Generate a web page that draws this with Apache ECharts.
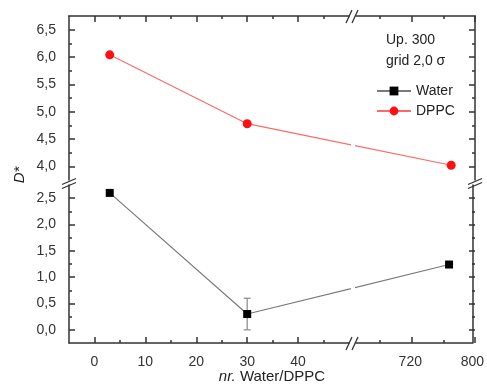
<!DOCTYPE html>
<html>
<head>
<meta charset="utf-8">
<script src="https://cdn.jsdelivr.net/npm/echarts@6/dist/echarts.min.js"></script>
<style>
html,body{margin:0;padding:0;background:#fff;}
#c{width:487px;height:389px;}
</style>
</head>
<body>
<div id="c"></div>
<script>
// ---- data ----
const waterX = [3, 30, 770];
const waterY = [2.6, 0.3, 1.24];
const waterErr = [0, 0.3, 0];
const dppcX = [3, 30, 770];
const dppcY = [6.04, 4.78, 4.02];

// ---- axis ranges / ticks ----
const xLeftRange = [-5, 50];
const xRightRange = [650, 800];
const yLowerRange = [-0.25, 2.75];
const yUpperRange = [3.75, 6.75];
const xLeftTicks = [0, 10, 20, 30, 40];
const xLeftMinor = [5, 15, 25, 35, 45];
const xRightTicks = [720, 800];
const xRightMinor = [680, 760];
const yUpperTicks = [4.0, 4.5, 5.0, 5.5, 6.0, 6.5];
const yUpperMinor = [4.25, 4.75, 5.25, 5.75, 6.25];
const yLowerTicks = [0.0, 0.5, 1.0, 1.5, 2.0, 2.5];
const yLowerMinor = [0.25, 0.75, 1.25, 1.75, 2.25];

const FONT = 'Liberation Sans, Arial, sans-serif';
const AX = '#333';
const TICK_W = 1.5;

// ---- panel layout (pixels) ----
const PL = { left: 69, width: 280 }, PR = { left: 356, width: 119 };
const PU = { top: 16, height: 164 }, PD = { top: 185, height: 158 };
const FULL_X = { left: PL.left, width: PR.left + PR.width - PL.left };
const FULL_Y = { top: PU.top, height: PD.top + PD.height - PU.top };

function mkAxis(dim, g, range, labelsAt, pos, showLabels) {
  const fmt = dim === 'y' ? (v => v.toFixed(1).replace('.', ',')) : (v => String(v));
  return {
    type: 'value', gridIndex: g, position: pos, min: range[0], max: range[1],
    axisLine: { show: true, onZero: false, lineStyle: { color: AX, width: 1.5 } },
    axisTick: { show: false },
    axisLabel: { show: showLabels, customValues: labelsAt, formatter: fmt, fontSize: 14, color: '#333', fontFamily: FONT, margin: dim === 'y' ? 13 : 12 },
    splitLine: { show: false }
  };
}
function hiddenAxis(g) { return { type: 'value', gridIndex: g, min: 0, max: 1, show: false }; }
function tickAxis(g, vals, pos, len) {
  const iv = vals.length > 1 ? Math.round((vals[1] - vals[0]) * 1000) / 1000 : 1;
  return {
    type: 'value', gridIndex: g, position: pos, min: vals[0], max: vals[vals.length - 1], interval: iv,
    axisLine: { show: false, onZero: false },
    axisTick: { show: true, inside: true, length: len, lineStyle: { color: AX, width: TICK_W } },
    axisLabel: { show: false }, splitLine: { show: false }
  };
}

const grids = [
  { left: PL.left, width: PL.width, top: PU.top, height: PU.height }, // 0 upper-left
  { left: PR.left, width: PR.width, top: PU.top, height: PU.height }, // 1 upper-right
  { left: PL.left, width: PL.width, top: PD.top, height: PD.height }, // 2 lower-left
  { left: PR.left, width: PR.width, top: PD.top, height: PD.height }, // 3 lower-right
  { left: FULL_X.left, width: FULL_X.width, top: FULL_Y.top, height: FULL_Y.height } // 4 overlay for names
];
const xAxes = [
  mkAxis('x', 0, xLeftRange, xLeftTicks, 'top', false),
  mkAxis('x', 1, xRightRange, xRightTicks, 'top', false),
  mkAxis('x', 2, xLeftRange, xLeftTicks, 'bottom', true),
  mkAxis('x', 3, xRightRange, xRightTicks, 'bottom', true),
  {
    type: 'value', gridIndex: 4, min: 0, max: 1, position: 'bottom',
    axisLine: { show: false }, axisTick: { show: false }, axisLabel: { show: false }, splitLine: { show: false },
    name: '{i|nr.} Water/DPPC', nameLocation: 'middle', nameGap: 35,
    nameTextStyle: { fontSize: 15, color: '#222', fontFamily: FONT, rich: { i: { fontStyle: 'italic', fontSize: 15, color: '#222', fontFamily: FONT } } }
  }
];
const yAxes = [
  mkAxis('y', 0, yUpperRange, yUpperTicks, 'left', true),
  mkAxis('y', 1, yUpperRange, yUpperTicks, 'right', false),
  mkAxis('y', 2, yLowerRange, yLowerTicks, 'left', true),
  mkAxis('y', 3, yLowerRange, yLowerTicks, 'right', false),
  {
    type: 'value', gridIndex: 4, min: 0, max: 1, position: 'left',
    axisLine: { show: false }, axisTick: { show: false }, axisLabel: { show: false }, splitLine: { show: false },
    name: 'D*', nameLocation: 'middle', nameGap: 42,
    nameTextStyle: { fontSize: 15, fontStyle: 'italic', color: '#222', fontFamily: FONT }
  }
];

// tick-mark helper panels: each spans exactly its tick values so ticks fall on them
function addXTicks(vals, range, P, len) {
  const g = grids.length;
  const s = P.width / (range[1] - range[0]);
  grids.push({ left: P.left + (vals[0] - range[0]) * s, width: (vals[vals.length - 1] - vals[0]) * s, top: FULL_Y.top, height: FULL_Y.height });
  xAxes.push(tickAxis(g, vals, 'top', len), tickAxis(g, vals, 'bottom', len));
  yAxes.push(hiddenAxis(g));
}
function addYTicks(vals, range, P, len) {
  const g = grids.length;
  const s = P.height / (range[1] - range[0]);
  grids.push({ left: FULL_X.left, width: FULL_X.width, top: P.top + (range[1] - vals[vals.length - 1]) * s, height: (vals[vals.length - 1] - vals[0]) * s });
  yAxes.push(tickAxis(g, vals, 'left', len), tickAxis(g, vals, 'right', len));
  xAxes.push(hiddenAxis(g));
}
addXTicks(xLeftTicks, xLeftRange, PL, 6);
addXTicks(xLeftMinor, xLeftRange, PL, 3);
addXTicks(xRightTicks, xRightRange, PR, 6);
addXTicks(xRightMinor, xRightRange, PR, 3);
addYTicks(yUpperTicks, yUpperRange, PU, 6);
addYTicks(yUpperMinor, yUpperRange, PU, 3);
addYTicks(yLowerTicks, yLowerRange, PD, 6);
addYTicks(yLowerMinor, yLowerRange, PD, 3);

function seg(xs, ys, r) {
  const out = [];
  xs.forEach((x, i) => { if (x >= r[0] && x <= r[1]) out.push([x, ys[i]]); });
  return out;
}

const dppcStyle = { symbol: 'circle', symbolSize: 9, itemStyle: { color: '#ff1010' }, lineStyle: { color: '#ff6868', width: 1.2 } };
const waterStyle = { symbol: 'rect', symbolSize: 8, itemStyle: { color: '#000' }, lineStyle: { color: '#7a7a7a', width: 1.2 } };

const errData = [];
waterX.forEach((x, i) => {
  if (waterErr[i] > 0) errData.push([x, waterY[i] - waterErr[i], waterY[i] + waterErr[i]]);
});

const series = [
  Object.assign({ id: 'dppcL', type: 'line', name: 'DPPC', xAxisIndex: 0, yAxisIndex: 0, data: seg(dppcX, dppcY, xLeftRange), clip: true, z: 3 }, dppcStyle),
  Object.assign({ id: 'dppcR', type: 'line', name: 'DPPC', xAxisIndex: 1, yAxisIndex: 1, data: seg(dppcX, dppcY, xRightRange), clip: true, z: 3 }, dppcStyle),
  Object.assign({ id: 'waterL', type: 'line', name: 'Water', xAxisIndex: 2, yAxisIndex: 2, data: seg(waterX, waterY, xLeftRange), clip: true, z: 3 }, waterStyle),
  Object.assign({ id: 'waterR', type: 'line', name: 'Water', xAxisIndex: 3, yAxisIndex: 3, data: seg(waterX, waterY, xRightRange), clip: true, z: 3 }, waterStyle),
  {
    id: 'err', type: 'custom', xAxisIndex: 2, yAxisIndex: 2, z: 2, data: errData,
    encode: { x: 0, y: [1, 2] },
    renderItem: function (params, api) {
      const x = api.value(0);
      const p1 = api.coord([x, api.value(1)]);
      const p2 = api.coord([x, api.value(2)]);
      const w = 3.5;
      const st = { stroke: '#8a8a8a', lineWidth: 1.2 };
      return {
        type: 'group', children: [
          { type: 'line', shape: { x1: p1[0], y1: p1[1], x2: p2[0], y2: p2[1] }, style: st },
          { type: 'line', shape: { x1: p1[0] - w, y1: p1[1], x2: p1[0] + w, y2: p1[1] }, style: st },
          { type: 'line', shape: { x1: p2[0] - w, y1: p2[1], x2: p2[0] + w, y2: p2[1] }, style: st }
        ]
      };
    }
  }
];

function slash(x1, y1, x2, y2) {
  return { type: 'line', shape: { x1: x1, y1: y1, x2: x2, y2: y2 }, style: { stroke: AX, lineWidth: 1.3 }, z: 10 };
}

const option = {
  animation: false,
  backgroundColor: '#fff',
  grid: grids,
  xAxis: xAxes,
  yAxis: yAxes,
  title: {
    text: 'Up. 300\ngrid 2,0 σ', left: 386, top: 30, padding: 0,
    textStyle: { fontSize: 14, fontWeight: 'normal', color: '#222', fontFamily: FONT, lineHeight: 21 }
  },
  legend: {
    data: ['Water', 'DPPC'], orient: 'vertical', left: 376, top: 84, padding: 0,
    itemWidth: 34, itemHeight: 11, itemGap: 6,
    textStyle: { fontSize: 14, color: '#222', fontFamily: FONT }
  },
  series: series,
  graphic: [
    slash(346, 350, 352, 337), slash(352, 350, 358, 337),
    slash(346, 23, 352, 10), slash(352, 23, 358, 10),
    slash(62, 184.5, 76, 178.5), slash(62, 188.5, 76, 182.5),
    slash(468, 184.5, 482, 178.5), slash(468, 188.5, 482, 182.5)
  ]
};

const chart = echarts.init(document.getElementById('c'), null, { renderer: 'canvas' });
chart.setOption(option);

// extend the segment that crosses the x-axis break into both panels, via the library's scales
function bridge(xs, ys, leftId, rightId, lAx, rAx) {
  const Ls = seg(xs, ys, xLeftRange), Rs = seg(xs, ys, xRightRange);
  if (!Ls.length || !Rs.length) return [];
  const a = Ls[Ls.length - 1], b = Rs[0];
  const pb = chart.convertToPixel({ xAxisIndex: rAx, yAxisIndex: rAx }, b);
  const bInL = chart.convertFromPixel({ xAxisIndex: lAx, yAxisIndex: lAx }, pb);
  const pa = chart.convertToPixel({ xAxisIndex: lAx, yAxisIndex: lAx }, a);
  const aInR = chart.convertFromPixel({ xAxisIndex: rAx, yAxisIndex: rAx }, pa);
  return [
    { id: leftId, data: Ls.concat([bInL]) },
    { id: rightId, data: [aInR].concat(Rs) }
  ];
}
const upd = [].concat(
  bridge(dppcX, dppcY, 'dppcL', 'dppcR', 0, 1),
  bridge(waterX, waterY, 'waterL', 'waterR', 2, 3)
);
chart.setOption({ series: upd });
</script>
</body>
</html>
